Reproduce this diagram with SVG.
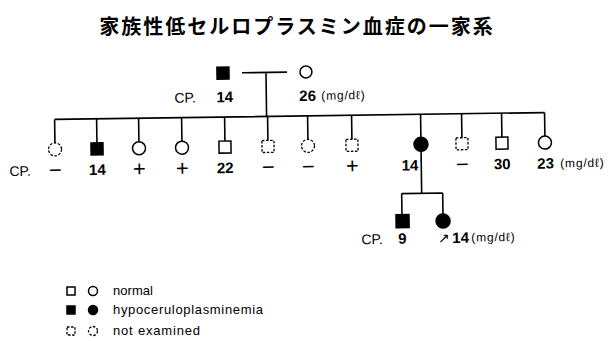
<svg xmlns="http://www.w3.org/2000/svg" width="615" height="341" viewBox="0 0 615 341">
<style>
.ln{stroke:#000;stroke-width:1.6;fill:none}
.sym{stroke:#000;stroke-width:1.5;fill:#fff}
.aff{stroke:#000;stroke-width:1.5;fill:#000}
.ne{stroke:#000;stroke-width:1.3;fill:#fff;stroke-dasharray:2.5,1.6}
.lbl{font-family:"Liberation Sans",Arial,sans-serif;font-size:14px;fill:#000}
.num{font-family:"Liberation Sans",Arial,sans-serif;font-size:15px;font-weight:bold;fill:#000}
.sgn{font-family:"Liberation Sans",Arial,sans-serif;font-size:22px;fill:#000}
.unit{font-family:"Liberation Sans",Arial,sans-serif;font-size:12px;fill:#000;letter-spacing:0.8px}
.leg{font-family:"Liberation Sans",Arial,sans-serif;font-size:13px;fill:#000}
.ttl{font-family:"Noto Sans CJK JP","Noto Sans CJK SC",sans-serif;font-size:20px;font-weight:bold;fill:#000;letter-spacing:2px}
</style>
<rect width="615" height="341" fill="#fff"/>
<text class="ttl" x="297" y="34" text-anchor="middle">家族性低セルロプラスミン血症の一家系</text>
<g transform="rotate(-0.8 300 146)">
<g id="connectors">
<path class="ln" d="M243 72H288M267 72V116M55 116H545"/>
<path class="ln" d="M55 116V139.5M97 116V140M139 116V139.5M182 116V139.5M225 116V140M268 116V140M308 116V139.5M352 116V140M421 116V195M462 116V140M502 116V140M545 116V139.5"/>
<path class="ln" d="M401 195H442M401 195V216M442 195V216"/>
</g>
<g id="father"><rect class="aff" x="218" y="66" width="12" height="12"/><text class="lbl" x="175" y="101">CP.</text><text class="num" x="217" y="101">14</text></g>
<g id="mother"><circle class="sym" cx="307" cy="72" r="6"/><text class="num" x="300" y="101">26</text><text class="unit" x="322" y="100">(mg/dℓ)</text></g>
<text class="lbl" x="9" y="172">CP.</text>
<g id="c1"><circle class="ne" cx="55" cy="146" r="6.5"/><text class="sgn" x="55" y="174" text-anchor="middle">−</text></g>
<g id="c2"><rect class="aff" x="91" y="140" width="12" height="12"/><text class="num" x="97" y="172" text-anchor="middle">14</text></g>
<g id="c3"><circle class="sym" cx="139" cy="146" r="6.5"/><text class="sgn" x="139" y="174" text-anchor="middle">+</text></g>
<g id="c4"><circle class="sym" cx="182" cy="146" r="6.5"/><text class="sgn" x="182" y="174" text-anchor="middle">+</text></g>
<g id="c5"><rect class="sym" x="219" y="140" width="12" height="12"/><text class="num" x="225" y="172" text-anchor="middle">22</text></g>
<g id="c6"><rect class="ne" x="262" y="140" width="12" height="12"/><text class="sgn" x="268" y="174" text-anchor="middle">−</text></g>
<g id="c7"><circle class="ne" cx="308" cy="146" r="6.5"/><text class="sgn" x="308" y="174" text-anchor="middle">−</text></g>
<g id="c8"><rect class="ne" x="346" y="140" width="12" height="12"/><text class="sgn" x="352" y="174" text-anchor="middle">+</text></g>
<g id="c9"><circle class="aff" cx="421" cy="146" r="7"/><text class="num" x="418" y="172" text-anchor="end">14</text></g>
<g id="c10"><rect class="ne" x="456" y="140" width="12" height="12"/><text class="sgn" x="462" y="174" text-anchor="middle">−</text></g>
<g id="c11"><rect class="sym" x="496" y="140" width="12" height="12"/><text class="num" x="502" y="172" text-anchor="middle">30</text></g>
<g id="c12"><circle class="sym" cx="545" cy="146" r="6.5"/><text class="num" x="537" y="172">23</text><text class="unit" x="560" y="171">(mg/dℓ)</text></g>
<g id="g1"><rect class="aff" x="395" y="216" width="13" height="13"/><text class="lbl" x="360" y="245">CP.</text><text class="num" x="397" y="245">9</text></g>
<g id="g2"><circle class="aff" cx="442" cy="223" r="7"/><text class="lbl" x="437" y="245">↗</text><text class="num" x="451" y="245">14</text><text class="unit" x="470" y="244">(mg/dℓ)</text></g>
</g>
<g id="legend">
<rect class="sym" x="67" y="287" width="8" height="8" stroke-width="1.1"/><circle class="sym" cx="93" cy="291" r="4.5" stroke-width="1.1"/><text class="leg" x="113" y="295" textLength="40" lengthAdjust="spacing">normal</text>
<rect class="aff" x="67" y="306" width="8" height="8"/><circle class="aff" cx="93" cy="310" r="4.5"/><text class="leg" x="113" y="314" textLength="150" lengthAdjust="spacing">hypoceruloplasminemia</text>
<rect class="ne" x="67" y="327" width="8" height="8" stroke-width="1"/><circle class="ne" cx="93" cy="331" r="4.5" stroke-width="1"/><text class="leg" x="113" y="335" textLength="87" lengthAdjust="spacing">not examined</text>
</g>
</svg>
